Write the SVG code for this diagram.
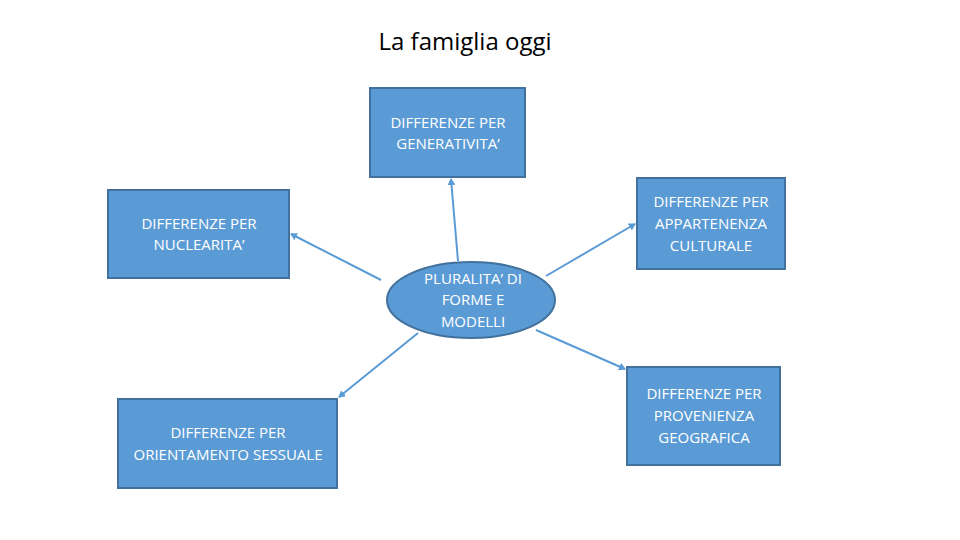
<svg xmlns="http://www.w3.org/2000/svg" width="960" height="540" viewBox="0 0 960 540">
<style>
.box{fill:#5b9bd5;stroke:#41719c;stroke-width:2}
.t{font-family:"Open Sans","Liberation Sans",sans-serif;font-size:15px;fill:#ffffff;text-anchor:middle}
.c{stroke:#5b9bd5;stroke-width:2;fill:none;marker-end:url(#ah)}
.title{font-family:"Open Sans","Liberation Sans",sans-serif;font-size:24px;fill:#000000;text-anchor:middle}
</style>
<defs>
<marker id="ah" markerWidth="8" markerHeight="8" refX="6" refY="4" orient="auto" markerUnits="userSpaceOnUse">
<path d="M0,0 L7,4 L0,8 Z" fill="#5b9bd5"/>
</marker>
</defs>
<rect width="960" height="540" fill="#ffffff"/>
<text class="title" x="465" y="50">La famiglia oggi</text>
<g id="connectors">
<line class="c" x1="458" y1="261" x2="451" y2="179"/>
<line class="c" x1="381" y1="280" x2="291" y2="234"/>
<line class="c" x1="546" y1="276" x2="635" y2="224"/>
<line class="c" x1="418" y1="333" x2="339" y2="397"/>
<line class="c" x1="536" y1="330" x2="625" y2="369"/>
</g>
<g id="generativita">
<rect class="box" x="370" y="88" width="155" height="89"/>
<text class="t" x="448" y="128">DIFFERENZE PER</text>
<text class="t" x="448" y="149">GENERATIVITA’</text>
</g>
<g id="nuclearita">
<rect class="box" x="108" y="190" width="181" height="88"/>
<text class="t" x="199" y="229">DIFFERENZE PER</text>
<text class="t" x="199" y="250">NUCLEARITA’</text>
</g>
<g id="appartenenza">
<rect class="box" x="637" y="178" width="148" height="91"/>
<text class="t" x="711" y="207">DIFFERENZE PER</text>
<text class="t" x="711" y="229">APPARTENENZA</text>
<text class="t" x="711" y="251">CULTURALE</text>
</g>
<g id="pluralita">
<ellipse class="box" cx="471" cy="300" rx="84" ry="38"/>
<text class="t" x="473" y="284">PLURALITA’ DI</text>
<text class="t" x="473" y="305">FORME E</text>
<text class="t" x="473" y="327">MODELLI</text>
</g>
<g id="orientamento">
<rect class="box" x="118" y="399" width="219" height="89"/>
<text class="t" x="228" y="438">DIFFERENZE PER</text>
<text class="t" x="228" y="460">ORIENTAMENTO SESSUALE</text>
</g>
<g id="provenienza">
<rect class="box" x="627" y="367" width="153" height="98"/>
<text class="t" x="704" y="399">DIFFERENZE PER</text>
<text class="t" x="704" y="421">PROVENIENZA</text>
<text class="t" x="704" y="443">GEOGRAFICA</text>
</g>
</svg>
